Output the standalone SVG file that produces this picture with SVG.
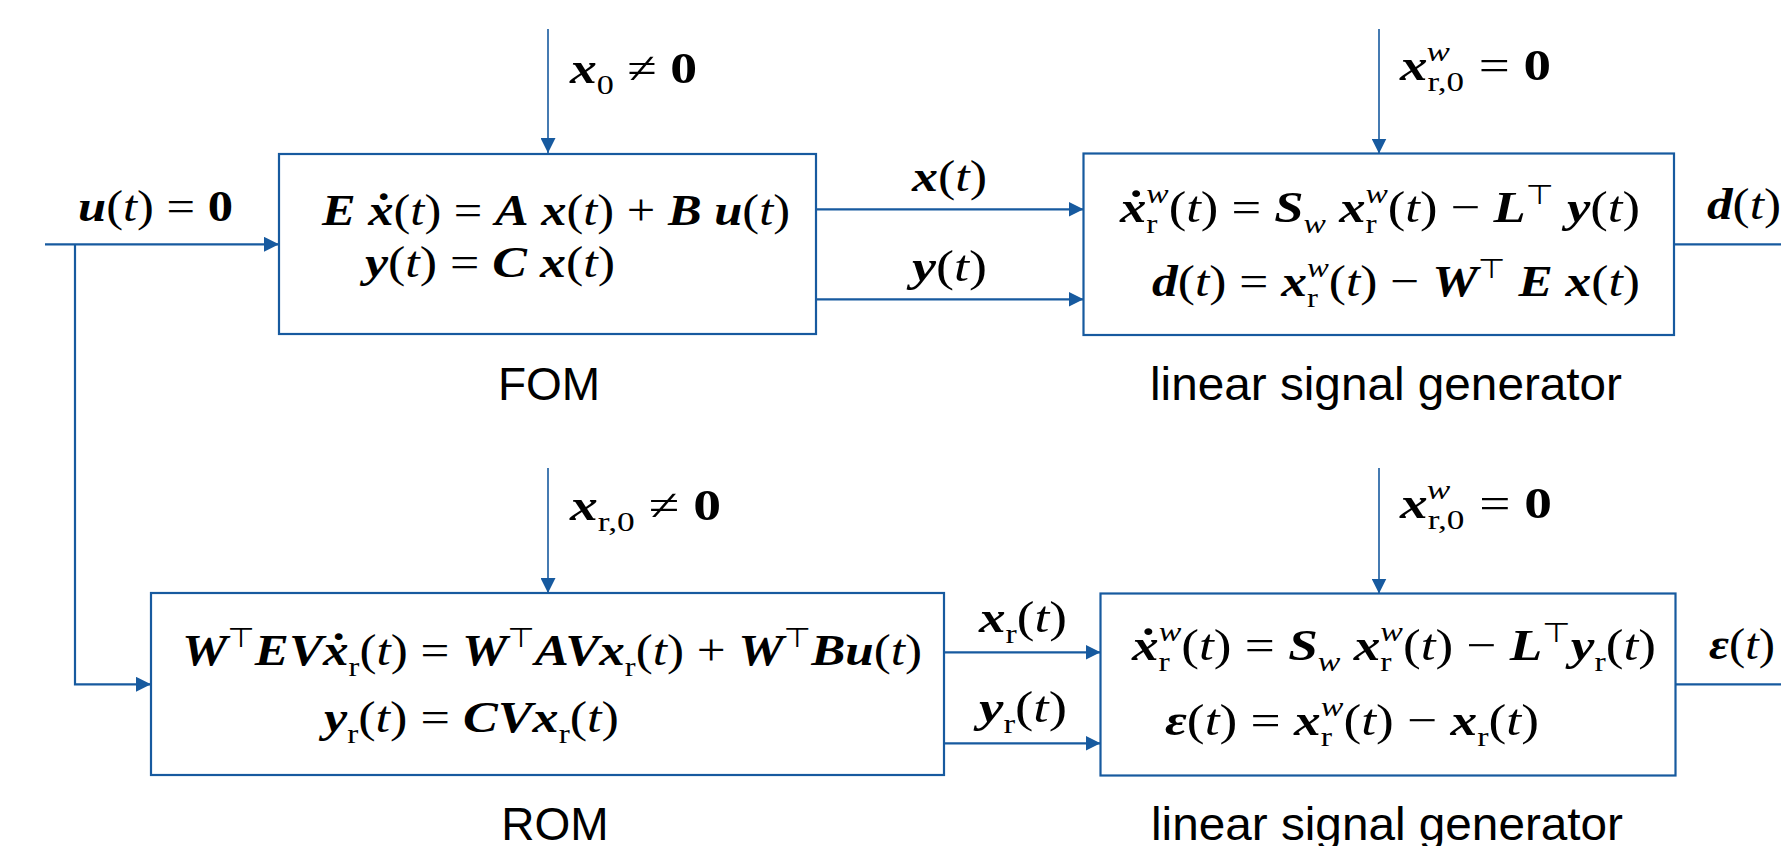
<svg xmlns="http://www.w3.org/2000/svg" width="1781" height="846" viewBox="0 0 1781 846">
<style>
.box{fill:#fff;stroke:#175a9f;stroke-width:2.2}
.h{fill:none;stroke:#175a9f;stroke-width:2.2}
.v{fill:none;stroke:#175a9f;stroke-width:1.6}
.m{font-family:"Liberation Serif","DejaVu Serif",serif;font-size:44px;fill:#000}
.bi{font-weight:bold;font-style:italic}
.i{font-style:italic}
.b{font-weight:bold}
.s{font-size:28px}
.tp{font-family:"DejaVu Sans",sans-serif;font-size:27px}
.lbl{font-family:"Liberation Sans",Arial,sans-serif;font-size:46px;fill:#000;text-anchor:middle}
</style>
<defs>
<marker id="ah" viewBox="0 0 15 15" markerWidth="15" markerHeight="15" refX="15" refY="7.5" markerUnits="userSpaceOnUse" orient="auto"><path d="M0,0 L15,7.5 L0,15 z" fill="#175a9f"/></marker>
</defs>

<g id="connectors">
<line class="h" x1="45" y1="244.3" x2="279" y2="244.3" marker-end="url(#ah)"/>
<polyline class="h" points="75,244.3 75,684.3 151,684.3" marker-end="url(#ah)"/>
<line class="v" x1="548" y1="29" x2="548" y2="153" marker-end="url(#ah)"/>
<line class="h" x1="815.5" y1="209.3" x2="1083.5" y2="209.3" marker-end="url(#ah)"/>
<line class="h" x1="815.5" y1="299.3" x2="1083.5" y2="299.3" marker-end="url(#ah)"/>
<line class="v" x1="1379" y1="29" x2="1379" y2="153.5" marker-end="url(#ah)"/>
<line class="h" x1="1674" y1="244.3" x2="1781" y2="244.3"/>
<line class="v" x1="548" y1="468" x2="548" y2="593" marker-end="url(#ah)"/>
<line class="h" x1="944" y1="652.3" x2="1100.5" y2="652.3" marker-end="url(#ah)"/>
<line class="h" x1="944" y1="743.3" x2="1100.5" y2="743.3" marker-end="url(#ah)"/>
<line class="v" x1="1379" y1="468" x2="1379" y2="593.5" marker-end="url(#ah)"/>
<line class="h" x1="1675.8" y1="684.3" x2="1781" y2="684.3"/>
</g>

<g id="labels">
<text class="m" x="570" y="83" textLength="127" lengthAdjust="spacingAndGlyphs"><tspan class="bi">x</tspan><tspan class="s" dy="11">0</tspan><tspan dy="-11"> ≠ </tspan><tspan class="b">0</tspan></text>
<text class="m" x="78" y="221" textLength="155" lengthAdjust="spacingAndGlyphs"><tspan class="bi">u</tspan>(<tspan class="i">t</tspan>) = <tspan class="b">0</tspan></text>
<text class="m" x="912" y="191" textLength="75" lengthAdjust="spacingAndGlyphs"><tspan class="bi">x</tspan>(<tspan class="i">t</tspan>)</text>
<text class="m" x="912" y="281" textLength="75" lengthAdjust="spacingAndGlyphs"><tspan class="bi">y</tspan>(<tspan class="i">t</tspan>)</text>
<text class="m" x="1400" y="80" textLength="151" lengthAdjust="spacingAndGlyphs"><tspan class="bi">x</tspan><tspan class="s" dy="11">r,0</tspan><tspan class="s i" dx="-30" dy="-30">w</tspan><tspan dx="12" dy="19"> = </tspan><tspan class="b">0</tspan></text>
<text class="m" x="1707" y="219" textLength="74" lengthAdjust="spacingAndGlyphs"><tspan class="bi">d</tspan>(<tspan class="i">t</tspan>)</text>
<text class="m" x="570" y="520" textLength="151" lengthAdjust="spacingAndGlyphs"><tspan class="bi">x</tspan><tspan class="s" dy="11">r,0</tspan><tspan dy="-11"> ≠ </tspan><tspan class="b">0</tspan></text>
<text class="m" x="1400" y="518" textLength="152" lengthAdjust="spacingAndGlyphs"><tspan class="bi">x</tspan><tspan class="s" dy="11">r,0</tspan><tspan class="s i" dx="-30" dy="-30">w</tspan><tspan dx="12" dy="19"> = </tspan><tspan class="b">0</tspan></text>
<text class="m" x="979" y="632" textLength="88" lengthAdjust="spacingAndGlyphs"><tspan class="bi">x</tspan><tspan class="s" dy="11">r</tspan><tspan dy="-11">(</tspan><tspan class="i">t</tspan>)</text>
<text class="m" x="979" y="722" textLength="88" lengthAdjust="spacingAndGlyphs"><tspan class="bi">y</tspan><tspan class="s" dy="11">r</tspan><tspan dy="-11">(</tspan><tspan class="i">t</tspan>)</text>
<text class="m" x="1709" y="659" textLength="66" lengthAdjust="spacingAndGlyphs"><tspan class="bi">ε</tspan>(<tspan class="i">t</tspan>)</text>
</g>

<g id="fom">
<rect class="box" x="279" y="154" width="537" height="180"/>
<text class="m" x="322" y="225" textLength="468" lengthAdjust="spacingAndGlyphs"><tspan class="bi">E</tspan> <tspan class="bi">ẋ</tspan>(<tspan class="i">t</tspan>) = <tspan class="bi">A</tspan> <tspan class="bi">x</tspan>(<tspan class="i">t</tspan>) + <tspan class="bi">B</tspan> <tspan class="bi">u</tspan>(<tspan class="i">t</tspan>)</text>
<text class="m" x="365" y="277" textLength="250" lengthAdjust="spacingAndGlyphs"><tspan class="bi">y</tspan>(<tspan class="i">t</tspan>) = <tspan class="bi">C</tspan> <tspan class="bi">x</tspan>(<tspan class="i">t</tspan>)</text>
<text class="lbl" x="549" y="400">FOM</text>
</g>

<g id="lsg-top">
<rect class="box" x="1083.5" y="153.5" width="590.5" height="181.5"/>
<text class="m" x="1120" y="222" textLength="520" lengthAdjust="spacingAndGlyphs"><tspan class="bi">ẋ</tspan><tspan class="s" dy="11">r</tspan><tspan class="s i" dx="-9.3" dy="-30">w</tspan><tspan dy="19">(</tspan><tspan class="i">t</tspan>) = <tspan class="bi">S</tspan><tspan class="s i" dy="11">w</tspan><tspan dy="-11"> </tspan><tspan class="bi">x</tspan><tspan class="s" dy="11">r</tspan><tspan class="s i" dx="-9.3" dy="-30">w</tspan><tspan dy="19">(</tspan><tspan class="i">t</tspan>) − <tspan class="bi">L</tspan><tspan class="tp" dy="-18">⊤</tspan><tspan dy="18"> </tspan><tspan class="bi">y</tspan>(<tspan class="i">t</tspan>)</text>
<text class="m" x="1152" y="296" textLength="488" lengthAdjust="spacingAndGlyphs"><tspan class="bi">d</tspan>(<tspan class="i">t</tspan>) = <tspan class="bi">x</tspan><tspan class="s" dy="11">r</tspan><tspan class="s i" dx="-9.3" dy="-30">w</tspan><tspan dy="19">(</tspan><tspan class="i">t</tspan>) − <tspan class="bi">W</tspan><tspan class="tp" dy="-18">⊤</tspan><tspan dy="18"> </tspan><tspan class="bi">E</tspan> <tspan class="bi">x</tspan>(<tspan class="i">t</tspan>)</text>
<text class="lbl" x="1386" y="400" textLength="472" lengthAdjust="spacingAndGlyphs">linear signal generator</text>
</g>

<g id="rom">
<rect class="box" x="151" y="593" width="793" height="182"/>
<text class="m" x="182" y="665" textLength="740" lengthAdjust="spacingAndGlyphs"><tspan class="bi">W</tspan><tspan class="tp" dy="-18">⊤</tspan><tspan class="bi" dy="18">EVẋ</tspan><tspan class="s" dy="11">r</tspan><tspan dy="-11">(</tspan><tspan class="i">t</tspan>) = <tspan class="bi">W</tspan><tspan class="tp" dy="-18">⊤</tspan><tspan class="bi" dy="18">AVx</tspan><tspan class="s" dy="11">r</tspan><tspan dy="-11">(</tspan><tspan class="i">t</tspan>) + <tspan class="bi">W</tspan><tspan class="tp" dy="-18">⊤</tspan><tspan class="bi" dy="18">Bu</tspan>(<tspan class="i">t</tspan>)</text>
<text class="m" x="324" y="732" textLength="295" lengthAdjust="spacingAndGlyphs"><tspan class="bi">y</tspan><tspan class="s" dy="11">r</tspan><tspan dy="-11">(</tspan><tspan class="i">t</tspan>) = <tspan class="bi">CVx</tspan><tspan class="s" dy="11">r</tspan><tspan dy="-11">(</tspan><tspan class="i">t</tspan>)</text>
<text class="lbl" x="555" y="840">ROM</text>
</g>

<g id="lsg-bottom">
<rect class="box" x="1100.5" y="593.5" width="575" height="182"/>
<text class="m" x="1132" y="660" textLength="524" lengthAdjust="spacingAndGlyphs"><tspan class="bi">ẋ</tspan><tspan class="s" dy="11">r</tspan><tspan class="s i" dx="-9.3" dy="-30">w</tspan><tspan dy="19">(</tspan><tspan class="i">t</tspan>) = <tspan class="bi">S</tspan><tspan class="s i" dy="11">w</tspan><tspan dy="-11"> </tspan><tspan class="bi">x</tspan><tspan class="s" dy="11">r</tspan><tspan class="s i" dx="-9.3" dy="-30">w</tspan><tspan dy="19">(</tspan><tspan class="i">t</tspan>) − <tspan class="bi">L</tspan><tspan class="tp" dy="-18">⊤</tspan><tspan class="bi" dy="18">y</tspan><tspan class="s" dy="11">r</tspan><tspan dy="-11">(</tspan><tspan class="i">t</tspan>)</text>
<text class="m" x="1165" y="735" textLength="374" lengthAdjust="spacingAndGlyphs"><tspan class="bi">ε</tspan>(<tspan class="i">t</tspan>) = <tspan class="bi">x</tspan><tspan class="s" dy="11">r</tspan><tspan class="s i" dx="-9.3" dy="-30">w</tspan><tspan dy="19">(</tspan><tspan class="i">t</tspan>) − <tspan class="bi">x</tspan><tspan class="s" dy="11">r</tspan><tspan dy="-11">(</tspan><tspan class="i">t</tspan>)</text>
<text class="lbl" x="1387" y="840" textLength="472" lengthAdjust="spacingAndGlyphs">linear signal generator</text>
</g>
</svg>
